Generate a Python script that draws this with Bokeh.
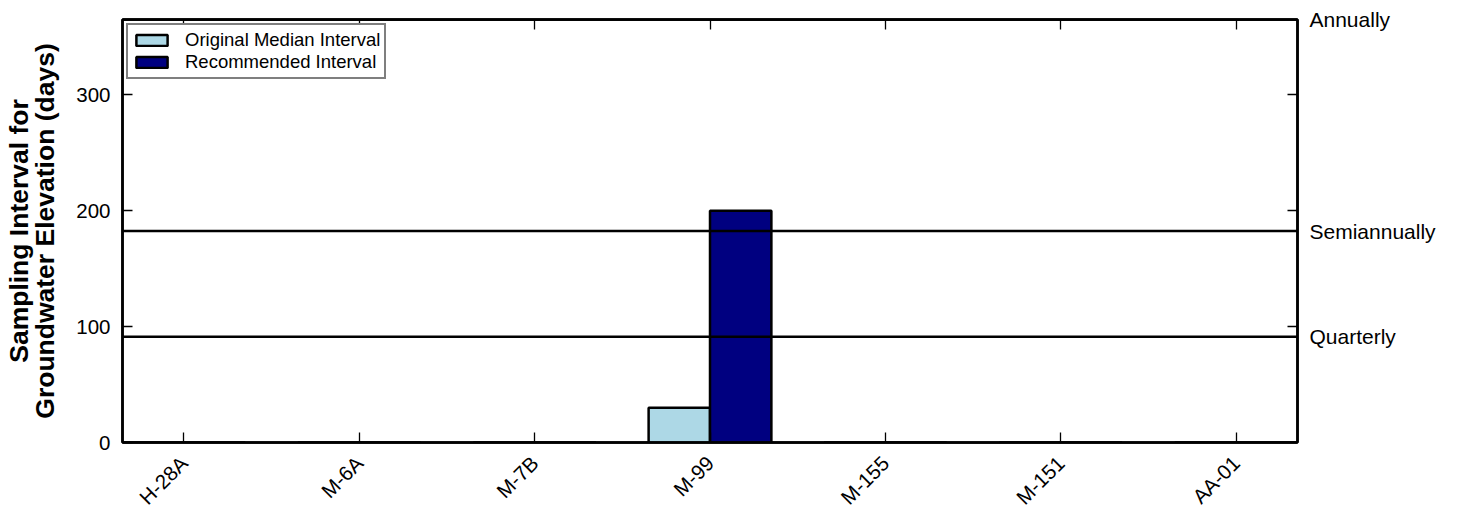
import math
import numpy as np
from bokeh.plotting import figure
from bokeh.models import (ColumnDataSource, FixedTicker, LinearAxis, Range1d,
                          Span, Legend, LegendItem)
from bokeh.embed import file_html
from bokeh.resources import INLINE

# ---- data ----
wells = ["H-28A", "M-6A", "M-7B", "M-99", "M-155", "M-151", "AA-01"]
original_interval = [0, 0, 0, 30, 0, 0, 0]
recommended_interval = [0, 0, 0, 200, 0, 0, 0]
y_ticks = [0, 100, 200, 300]
freq_labels = ["Quarterly", "Semiannually", "Annually"]
freq_days = [91.25, 182.5, 365]

FONT = "Liberation Sans"
BAR_W = 0.35
LW = 2.5

x_pos = np.arange(len(wells))
src = ColumnDataSource(dict(
    x_orig=x_pos - BAR_W / 2,
    x_rec=x_pos + BAR_W / 2,
    orig=original_interval,
    rec=recommended_interval,
))

p = figure(frame_width=1175, frame_height=423,
           x_range=Range1d(-0.35, len(wells) - 1 + 0.35),
           y_range=Range1d(0, 365),
           output_backend="svg", toolbar_location=None,
           min_border_left=115, min_border_right=151,
           min_border_top=19, min_border_bottom=58)
p.grid.visible = False
p.outline_line_color = "black"
p.outline_line_width = LW
p.background_fill_color = "white"
p.border_fill_color = "white"

r1 = p.vbar(x="x_orig", top="orig", width=BAR_W, source=src,
            fill_color="#ADD8E6", line_color="black", line_width=LW)
r2 = p.vbar(x="x_rec", top="rec", width=BAR_W, source=src,
            fill_color="#000080", line_color="black", line_width=LW)

for d in freq_days:
    p.add_layout(Span(location=d, dimension="width", line_color="black",
                      line_width=LW))

# left axis
ya = p.yaxis[0]
ya.ticker = FixedTicker(ticks=y_ticks, minor_ticks=[])
ya.major_tick_in = 10
ya.major_tick_out = 0
ya.major_tick_line_width = 1.3
ya.minor_tick_line_color = None
ya.axis_line_width = LW
ya.major_label_text_font = FONT
ya.major_label_text_font_size = "20.5px"
ya.major_label_text_color = "black"
ya.major_label_standoff = 12
ya.axis_label = "Sampling Interval for\nGroundwater Elevation (days)"
ya.axis_label_text_font = FONT
ya.axis_label_text_font_style = "bold"
ya.axis_label_text_font_size = "26.5px"
ya.axis_label_text_color = "black"
ya.axis_label_text_line_height = 0.88
ya.axis_label_standoff = 13

# bottom axis
xa = p.xaxis[0]
xa.ticker = FixedTicker(ticks=list(x_pos), minor_ticks=[])
xa.major_label_overrides = {int(i): w for i, w in zip(x_pos, wells)}
xa.major_label_orientation = math.pi / 4
xa.major_tick_in = 10
xa.major_tick_out = 0
xa.major_tick_line_width = 1.3
xa.minor_tick_line_color = None
xa.axis_line_width = LW
xa.major_label_text_font = FONT
xa.major_label_text_font_size = "20.5px"
xa.major_label_text_color = "black"
xa.major_label_standoff = 17

# top axis (ticks only)
ta = LinearAxis(ticker=FixedTicker(ticks=[], minor_ticks=list(x_pos)))
ta.minor_tick_in = 10
ta.minor_tick_out = 0
ta.minor_tick_line_width = 1.3
ta.major_tick_line_color = None
ta.major_label_text_font_size = "0px"
ta.major_label_standoff = 0
ta.axis_line_width = LW
p.add_layout(ta, "above")

# right axis (frequency labels + mirrored ticks)
ra = LinearAxis(ticker=FixedTicker(ticks=freq_days, minor_ticks=y_ticks[1:]))
ra.major_label_overrides = {float(d): l for d, l in zip(freq_days, freq_labels)}
ra.major_tick_in = 0
ra.major_tick_out = 0
ra.minor_tick_in = 10
ra.minor_tick_out = 0
ra.minor_tick_line_width = 1.3
ra.axis_line_width = LW
ra.major_label_text_font = FONT
ra.major_label_text_font_size = "21px"
ra.major_label_text_color = "black"
ra.major_label_standoff = 12
p.add_layout(ra, "right")

legend = Legend(items=[LegendItem(label="Original Median Interval", renderers=[r1]),
                       LegendItem(label="Recommended Interval", renderers=[r2])],
                location="top_left", margin=4, padding=4, spacing=0,
                glyph_width=39, glyph_height=14, label_height=18,
                label_standoff=14,
                label_text_font=FONT, label_text_font_size="18.5px",
                label_text_color="black",
                border_line_color="black", border_line_width=LW,
                background_fill_alpha=1.0)
p.add_layout(legend)

open("out.html", "w").write(file_html(p, INLINE))
